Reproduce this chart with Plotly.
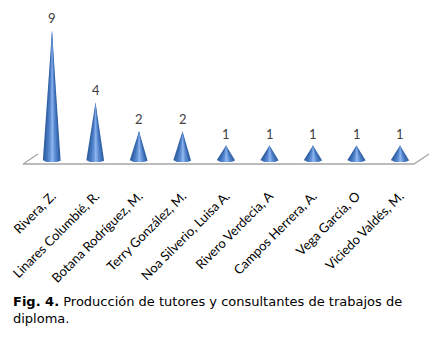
import numpy as np
import plotly.graph_objects as go

categories = ["Rivera, Z.", "Linares Columbié, R.", "Botana Rodríguez, M.",
              "Terry González, M.", "Noa Silverio, Luisa A.", "Rivero Verdecia, A",
              "Campos Herrera, A.", "Vega García, O", "Viciedo Valdés, M."]
values = [9, 4, 2, 2, 1, 1, 1, 1, 1]

W, H = 434, 344
PX_X = 43.5      # px per category
PX_Y = 14.4      # px per unit
X0 = 52          # px of first category
Y0 = 160         # px (from top) of value 0
TOP_DOMAIN_PX = 172

fig = go.Figure()

cone_w = 0.42
ell_h = 0.14
layers = [(-1.0, 1.0, "#3463a6"),
          (-0.72, 0.78, "#4577c0"),
          (-0.45, 0.55, "#5a8ad0"),
          (-0.22, 0.35, "#74a0e0"),
          (-0.05, 0.18, "#8eb6ee")]

for i, v in enumerate(values):
    for l, r, col in layers:
        ts = np.linspace(np.arccos(r), np.arccos(l), 20)
        xs = [i] + list(i + cone_w / 2 * np.cos(ts)) + [i]
        ys = [v] + list(-ell_h * np.sin(ts)) + [v]
        fig.add_trace(go.Scatter(x=xs, y=ys, mode="lines", fill="toself",
                                 fillcolor=col, line=dict(width=0, color=col),
                                 hoverinfo="skip", showlegend=False))
    fig.add_annotation(x=i, y=v, text=str(v), showarrow=False, yshift=12,
                       font=dict(family="Lato, Arial", size=13, color="#404040"))

# floor
n = len(categories)
fx_l = (23 - X0) / PX_X
fx_r = (414 - X0) / PX_X
fy_f = (Y0 - 164) / PX_Y
fy_b = (Y0 - 154) / PX_Y
dx = 15 / PX_X
fig.add_trace(go.Scatter(x=[fx_l + dx, fx_l, fx_r, fx_r + dx],
                         y=[fy_b, fy_f, fy_f, fy_b], mode="lines",
                         line=dict(color="#a6a6a6", width=1.3),
                         hoverinfo="skip", showlegend=False))

bottom_px = TOP_DOMAIN_PX
fig.update_layout(
    width=W, height=H, margin=dict(l=0, r=0, t=0, b=0),
    paper_bgcolor="white", plot_bgcolor="white",
    xaxis=dict(range=[-X0 / PX_X, (W - X0) / PX_X], tickvals=list(range(n)),
               ticktext=categories, tickangle=-45, showgrid=False, zeroline=False,
               showline=False, ticks="", ticklabelstandoff=13,
               tickfont=dict(family="Lato, Arial", size=13, color="#000000"),
               domain=[0, 1]),
    yaxis=dict(range=[-(bottom_px - Y0) / PX_Y, Y0 / PX_Y], domain=[(H - bottom_px) / H, 1],
               visible=False),
)

fig.add_annotation(xref="paper", yref="paper", x=11 / W, y=1 - 292 / H,
                   xanchor="left", yanchor="top", align="left", showarrow=False,
                   text="<b>Fig. 4.</b> Producción de tutores y consultantes de trabajos de<br>diploma.",
                   font=dict(family="DejaVu Sans, Verdana", size=13, color="#000000"))

fig.write_html("out.html")
